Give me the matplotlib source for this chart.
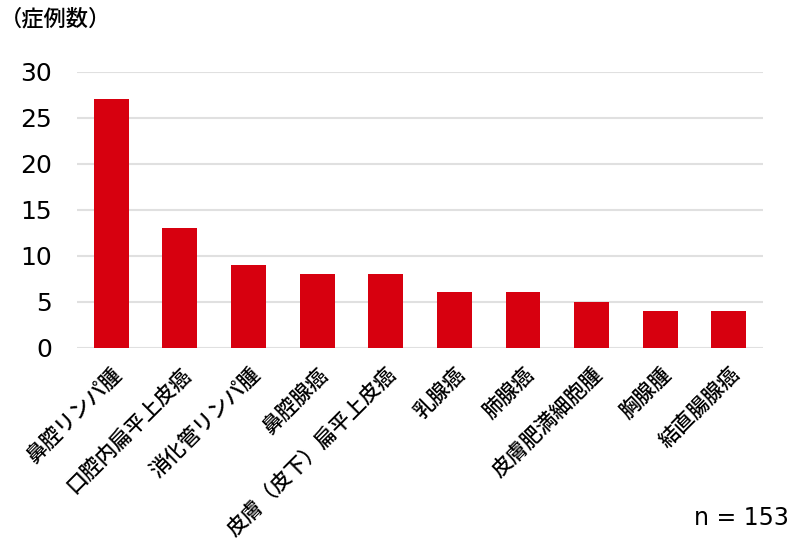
import matplotlib
matplotlib.use("Agg")
import matplotlib.pyplot as plt

plt.rcParams["font.family"] = ["Noto Sans CJK JP", "DejaVu Sans"]
plt.rcParams["font.weight"] = "medium"

categories = ["鼻腔リンパ腫", "口腔内扁平上皮癌", "消化管リンパ腫", "鼻腔腺癌",
              "皮膚（皮下）扁平上皮癌", "乳腺癌", "肺腺癌", "皮膚肥満細胞腫",
              "胸腺腫", "結直腸腺癌"]
counts = [27, 13, 9, 8, 8, 6, 6, 5, 4, 4]
yticks = [0, 5, 10, 15, 20, 25, 30]
total_n = 153

fig = plt.figure(figsize=(7.9, 5.46), dpi=100)
ax = fig.add_axes([0.0975, 0.3632, 0.8685, 0.5055])

x = range(len(categories))
ax.bar(x, counts, width=0.51, color="#d7000f", zorder=3)

ax.set_xlim(-0.5, len(categories) - 0.5)
ax.set_ylim(0, 30)
ax.set_yticks(yticks)
ax.set_yticklabels([str(v) for v in yticks], fontsize=18,
                   family=["DejaVu Sans"])
ax.yaxis.grid(True, color="#e0e0e0", linewidth=1.5, zorder=0)
ax.set_axisbelow(True)
for s in ax.spines.values():
    s.set_visible(False)
ax.tick_params(axis="y", length=0, pad=18)
ax.tick_params(axis="x", length=0, pad=11)
ax.set_xticks(list(x))
ax.set_xticklabels(categories, rotation=45, ha="right", va="top",
                   rotation_mode="anchor", fontsize=15)

fig.text(0.0, 0.965, "（症例数）", fontsize=16, ha="left", va="center")
fig.text(0.998, 0.052, f"n = {total_n}", fontsize=17, ha="right", va="center",
         family=["DejaVu Sans"])

fig.savefig("out.png", dpi=100)
